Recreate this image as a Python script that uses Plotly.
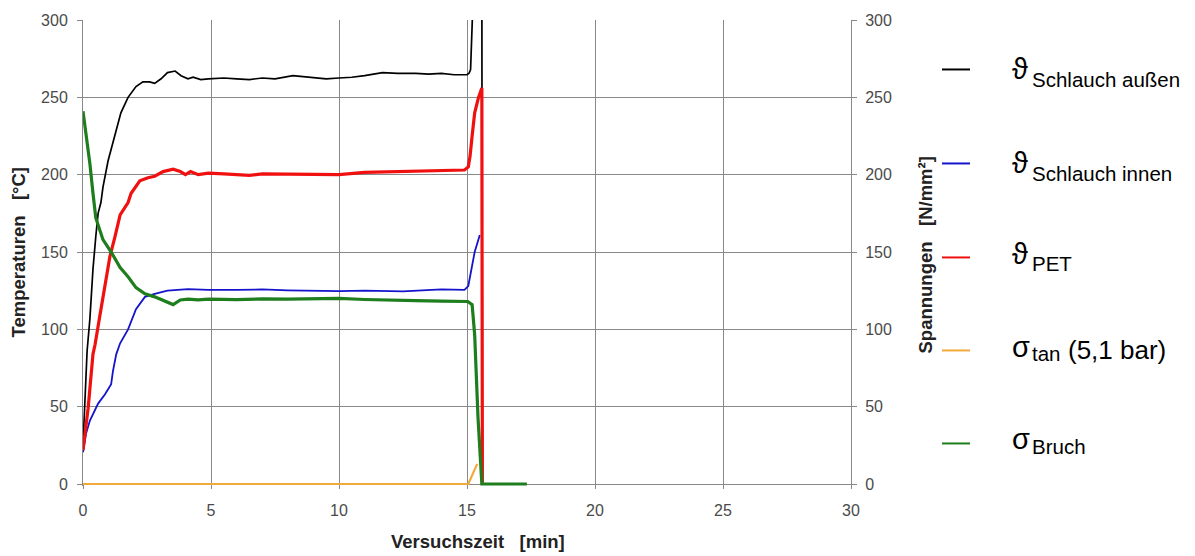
import plotly.graph_objects as go

# --- measured series (time in minutes) ---
t_aussen = [0, 0.05, 0.1, 0.16, 0.27, 0.39, 0.5, 0.59, 0.7, 0.78, 0.98, 1.25, 1.48, 1.76, 2.07,
            2.34, 2.6, 2.8, 3.05, 3.3, 3.6, 3.83, 4.1, 4.3, 4.6, 4.9, 5.5, 6.0, 6.5, 7.0, 7.5,
            8.2, 9.0, 9.5, 10.0, 10.5, 11.0, 11.7, 12.3, 13.0, 13.5, 14.0, 14.5, 15.0, 15.08,
            15.14, 15.25, 15.4, 15.5, 15.58, 15.6]
v_aussen = [25, 45, 62, 86, 107, 139, 160, 175, 182, 192, 209, 226, 240, 250, 257,
            260, 260, 259, 262, 266, 267, 264, 262, 263, 261.5, 262, 262.5, 262, 261.5, 262.5, 262,
            264, 263, 262, 262.5, 263, 264, 266, 265.5, 265.5, 265, 265.5, 264.6, 264.6, 265.6,
            268, 320, 345, 345, 330, 0]

t_innen = [0, 0.12, 0.27, 0.59, 0.86, 1.1, 1.17, 1.3, 1.45, 1.76, 2.07, 2.42, 2.8, 3.3, 4.1,
           4.9, 6.0, 7.0, 8.0, 9.0, 10.0, 11.0, 12.5, 14.0, 14.9, 15.05, 15.3, 15.5]
v_innen = [20.5, 32.6, 41, 52, 58, 64.6, 73, 84, 91, 100, 113, 121, 123, 125, 126,
           125.5, 125.5, 125.8, 125.2, 125, 124.7, 125, 124.5, 125.8, 125.5, 128, 150, 161]

t_pet = [0, 0.1, 0.2, 0.39, 0.47, 0.66, 0.86, 1.05, 1.25, 1.45, 1.76, 1.88, 2.22, 2.54, 2.8,
         3.13, 3.52, 3.8, 4.0, 4.2, 4.5, 4.9, 5.5, 6.0, 6.5, 7.0, 8.0, 9.0, 10.0, 11.0, 12.0,
         13.0, 14.0, 14.9, 15.05, 15.12, 15.2, 15.3, 15.45, 15.58, 15.6]
v_pet = [22, 35, 49, 84, 90, 109, 128, 147, 160, 174, 182, 188, 196, 198, 199,
         202, 203.5, 202, 200, 202, 200, 201, 200.5, 200, 199.5, 200.5, 200.5, 200.2, 200, 201.5, 202,
         202.5, 202.5, 203, 205, 212, 225, 240, 250, 256, 0]

t_tan = [0, 5, 10, 15.05, 15.4]
v_tan = [0, 0, 0, 0, 13]

t_bruch = [0, 0.12, 0.27, 0.39, 0.5, 0.78, 1.1, 1.45, 1.76, 2.07, 2.42, 2.8, 3.2, 3.52, 3.8,
           4.1, 4.5, 4.9, 6.0, 7.0, 8.0, 9.0, 10.0, 11.0, 12.0, 13.0, 14.0, 14.9, 15.03, 15.2,
           15.23, 15.3, 15.43, 15.58, 17.34]
v_bruch = [241, 226, 207, 188, 172, 158, 150, 140, 134, 127, 123, 121, 118, 116, 119,
           119.5, 119, 119.5, 119.2, 119.7, 119.5, 119.8, 120, 119.3, 118.7, 118.6, 118.2, 118, 118, 116,
           111, 96.5, 43, 0, 0]

series = [
    dict(name="Schlauch außen", sym="ϑ", x=t_aussen, y=v_aussen, color="#000000", width=1.7, axis="y"),
    dict(name="Schlauch innen", sym="ϑ", x=t_innen, y=v_innen, color="#1414CC", width=1.8, axis="y"),
    dict(name="PET", sym="ϑ", x=t_pet, y=v_pet, color="#F01010", width=3.2, axis="y"),
    dict(name="tan", sym="σ", x=t_tan, y=v_tan, color="#F2A93B", width=2.2, axis="y2", extra="(5,1 bar)"),
    dict(name="Bruch", sym="σ", x=t_bruch, y=v_bruch, color="#1E7E1E", width=3.2, axis="y2"),
]

x_ticks = [0, 5, 10, 15, 20, 25, 30]
y_ticks = [0, 50, 100, 150, 200, 250, 300]

W, H = 1195, 556
L, R = 83, 851          # x = 0 and x = 30
Y300, Y0 = 15, 484      # y = 300 and y = 0
PB = 486                # bottom edge of the plotting area (a little below zero so zero lines are not cut)
unit = (Y0 - Y300) / 300.0
y_min = -(PB - Y0) / unit


def px(xp):
    return (xp - L) / (R - L)


def py(yp):
    return (PB - yp) / (PB - Y300)


fig = go.Figure()
for s in series:
    fig.add_trace(go.Scatter(
        x=s["x"], y=s["y"], mode="lines", yaxis=s["axis"], name=s["name"],
        line=dict(color=s["color"], width=s["width"]), showlegend=False,
    ))

grid = "#888888"
tickfont = dict(family="Liberation Sans, Arial, sans-serif", size=16, color="#4a4a4a")

fig.update_layout(
    width=W, height=H,
    margin=dict(l=L, r=W - R, t=Y300, b=H - PB),
    paper_bgcolor="white", plot_bgcolor="white",
    xaxis=dict(range=[0, 30], tickvals=x_ticks, showgrid=True, gridcolor=grid, gridwidth=1,
               showline=True, linecolor=grid, linewidth=1, ticks="outside", ticklen=4,
               tickcolor=grid, tickfont=tickfont, zeroline=False, fixedrange=True,
               anchor="free", position=py(Y0), layer="below traces", ticklabelstandoff=8),
    yaxis=dict(range=[y_min, 300], tickvals=y_ticks, showgrid=True, gridcolor=grid, gridwidth=1,
               showline=True, linecolor=grid, linewidth=1, ticks="outside", ticklen=5,
               tickcolor=grid, tickfont=tickfont, zeroline=False, fixedrange=True,
               layer="below traces", ticklabelstandoff=6),
    yaxis2=dict(range=[y_min, 300], tickvals=y_ticks, overlaying="y", side="right", showgrid=False,
                showline=True, linecolor=grid, linewidth=1, ticks="outside", ticklen=5,
                tickcolor=grid, tickfont=tickfont, zeroline=False, fixedrange=True,
                layer="below traces", ticklabelstandoff=5),
)

titlefont = dict(family="Liberation Sans, Arial, sans-serif", size=18.5, color="#222222")
nb = "\u00a0"
fig.add_annotation(text=f"<b>Versuchszeit{nb*3}[min]</b>", xref="paper", yref="paper",
                   x=px(478), y=py(542), showarrow=False, font=titlefont,
                   xanchor="center", yanchor="middle")
fig.add_annotation(text=f"<b>Temperaturen{nb*3}[°C]</b>", xref="paper", yref="paper",
                   x=px(19), y=py(250), showarrow=False, font=titlefont, textangle=-90,
                   xanchor="center", yanchor="middle")
fig.add_annotation(text=f"<b>Spannungen{nb*3}[N/mm²]</b>", xref="paper", yref="paper",
                   x=px(925), y=py(253), showarrow=False, font=titlefont, textangle=-90,
                   xanchor="center", yanchor="middle")

# legend drawn at the right of the plot: sample line, symbol, lowered index, optional suffix
# (pixel rows: sample line, symbol centre, index centre)
legend_rows = [(65, 65, 75), (160, 160, 170), (255, 252, 261), (349, 346, 352), (443, 439, 446)]
fam = "Liberation Sans, Arial, sans-serif"
symfont = dict(family=fam, size=29, color="#000000")
subfont = dict(family=fam, size=20.5, color="#000000")
extfont = dict(family=fam, size=26, color="#000000")
for s, (y_line, y_sym, y_sub) in zip(series, legend_rows):
    fig.add_shape(type="line", xref="paper", yref="paper",
                  x0=px(942), x1=px(970), y0=py(y_line), y1=py(y_line),
                  line=dict(color=s["color"], width=2))
    fig.add_annotation(text=s["sym"], xref="paper", yref="paper",
                       x=px(1010), y=py(y_sym), showarrow=False, font=symfont,
                       xanchor="left", yanchor="middle")
    fig.add_annotation(text=s["name"], xref="paper", yref="paper",
                       x=px(1030), y=py(y_sub), showarrow=False, font=subfont,
                       xanchor="left", yanchor="middle")
    if s.get("extra"):
        fig.add_annotation(text=s["extra"], xref="paper", yref="paper",
                           x=px(1066), y=py(y_line - 0.5), showarrow=False, font=extfont,
                           xanchor="left", yanchor="middle")

fig.write_html("out.html")
